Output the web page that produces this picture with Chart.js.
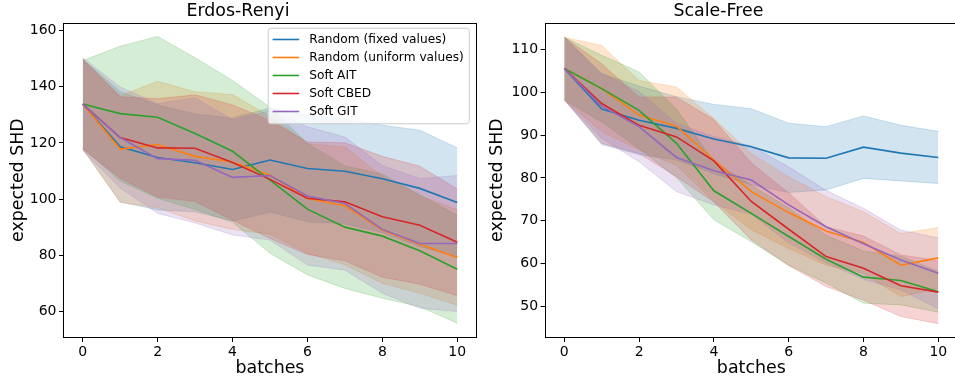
<!DOCTYPE html>
<html>
<head>
<meta charset="utf-8">
<script src="https://cdn.jsdelivr.net/npm/chart.js@4.4.1/dist/chart.umd.min.js"></script>
<style>
  html, body { margin: 0; padding: 0; background: #fff; overflow: hidden; width: 955px; height: 386px; }
  #left { position: absolute; left: 0; top: 0; }
  #right { position: absolute; left: 480px; top: 0; }
</style>
</head>
<body>
<canvas id="left" width="478" height="386"></canvas>
<canvas id="right" width="478" height="386"></canvas>
<script>
const batches = [0, 1, 2, 3, 4, 5, 6, 7, 8, 9, 10];
const xTicks = [0, 2, 4, 6, 8, 10];
const erYTicks = [60, 80, 100, 120, 140, 160];
const sfYTicks = [50, 60, 70, 80, 90, 100, 110];
const seriesNames = ['Random (fixed values)', 'Random (uniform values)', 'Soft AIT', 'Soft CBED', 'Soft GIT'];

// Erdos-Renyi: mean expected SHD and spread per batch
const erFixed = [133.8, 118.6, 114.8, 112.9, 110.5, 113.9, 110.9, 109.9, 107.2, 103.8, 98.8];
const erFixedSd = [16, 19.6, 18.7, 17.4, 18.3, 18.5, 19, 18.7, 19.1, 20.7, 19.4];
const erUniform = [133.8, 117.8, 119.4, 115.2, 113.2, 108.5, 100.2, 97.6, 89.0, 83.9, 79.2];
const erUniformSd = [16, 19, 22.5, 23, 24, 21, 19.5, 21, 19, 17.4, 17];
const erAit = [133.8, 130.4, 129.1, 123.3, 117.0, 106.7, 96.4, 90.0, 86.8, 81.6, 75.0];
const erAitSd = [15.5, 24, 28.8, 27, 25.2, 26, 23.4, 21.8, 22.1, 19.9, 19.2];
const erCbed = [133.8, 121.9, 118.2, 118.1, 113.0, 107.0, 100.3, 99.0, 93.7, 90.7, 84.6];
const erCbedSd = [16, 14.5, 17.5, 19, 20.5, 21, 20, 21, 21.5, 21, 19];
const erGit = [133.8, 121.9, 114.4, 113.8, 107.7, 108.4, 101.1, 98.4, 89.2, 84.2, 84.2];
const erGitSd = [16.5, 18, 19.5, 22.3, 20.5, 23, 24.6, 23.7, 22.7, 23.1, 24.2];

// Scale-Free
const sfFixed = [105.6, 96.1, 93.5, 91.6, 89.1, 87.3, 84.7, 84.6, 87.2, 85.8, 84.8];
const sfFixedSd = [7.3, 8.3, 8, 7.4, 8.1, 8.9, 8.1, 7.4, 7.3, 6.5, 6.1];
const sfUniform = [105.6, 100.9, 94.7, 92.1, 84.2, 76.8, 71.9, 67.6, 64.9, 59.6, 61.3];
const sfUniformSd = [7.3, 10.1, 8.1, 9.2, 9.7, 8.9, 8.4, 8, 7.2, 7.4, 7.1];
const sfAit = [105.6, 100.9, 95.8, 88.1, 77.0, 71.7, 66.3, 61.0, 56.8, 56.0, 53.4];
const sfAitSd = [7.3, 7.8, 9, 8, 6.8, 6.6, 6.7, 5.6, 6.1, 5.7, 4.8];
const sfCbed = [105.6, 97.4, 92.3, 89.6, 84.0, 74.5, 68.0, 61.6, 58.9, 54.8, 53.3];
const sfCbedSd = [7.3, 9.3, 6.6, 9.3, 9.6, 9, 8.5, 7, 7.5, 7.2, 7.4];
const sfGit = [105.6, 96.8, 92.0, 84.8, 81.7, 79.5, 73.7, 68.6, 64.6, 60.8, 57.7];
const sfGitSd = [7.3, 7.6, 8.2, 8, 8, 8, 8.9, 8.5, 8.3, 7, 8.3];

const colors = ['31,119,180', '255,127,14', '44,160,44', '214,39,40', '148,103,189'];
const family = '"DejaVu Sans", sans-serif';

// higher order is drawn first: bands in series order, then lines in series order on top
function seriesSets(means, sds) {
  const sets = [];
  means.forEach((mean, k) => {
    const c = colors[k];
    const edge = 'rgba(' + c + ',0.2)';
    sets.push({ data: mean.map((m, i) => m + sds[k][i]), borderWidth: 1, borderColor: edge, pointRadius: 0, fill: false, order: 20 - k });
    sets.push({ data: mean.map((m, i) => m - sds[k][i]), borderWidth: 1, borderColor: edge, pointRadius: 0, fill: '-1', backgroundColor: edge, order: 20 - k });
  });
  means.forEach((mean, k) => {
    sets.push({ label: seriesNames[k], data: mean, borderColor: 'rgb(' + colors[k] + ')', borderWidth: 1.6, pointRadius: 0, fill: false, tension: 0, order: 10 - k });
  });
  return sets;
}

const frame = {
  id: 'frame',
  afterDatasetsDraw(chart) {
    const { ctx, chartArea: a } = chart;
    ctx.save();
    ctx.strokeStyle = '#000';
    ctx.lineWidth = 1;
    const l = Math.round(a.left) - 0.5, t = Math.round(a.top) + 0.5;
    ctx.strokeRect(l, t, Math.round(a.right) - Math.round(a.left) + 1, Math.round(a.bottom) - Math.round(a.top));
    ctx.restore();
  }
};

const boxLegend = {
  id: 'boxLegend',
  afterDraw(chart) {
    const { ctx, chartArea: a } = chart;
    const items = chart.data.datasets.filter(d => d.label);
    ctx.save();
    ctx.font = '12.2px ' + family;
    const textW = Math.max(...items.map(d => ctx.measureText(d.label).width));
    const rowH = 18;
    const w = 4.4 + 26.6 + 10 + textW + 5.5;
    const h = 11.3 + (items.length - 1) * rowH + 12.3;
    const x = a.right - 6.7 - w, y = a.top + 5;
    ctx.beginPath();
    ctx.roundRect(x, y, w, h, 3);
    ctx.fillStyle = 'rgba(255,255,255,0.8)';
    ctx.fill();
    ctx.strokeStyle = '#cccccc';
    ctx.lineWidth = 1;
    ctx.stroke();
    ctx.textBaseline = 'middle';
    items.forEach((d, i) => {
      const cy = y + 11.3 + i * rowH;
      ctx.beginPath();
      ctx.moveTo(x + 4.4, cy);
      ctx.lineTo(x + 31, cy);
      ctx.strokeStyle = d.borderColor;
      ctx.lineWidth = 1.6;
      ctx.stroke();
      ctx.fillStyle = '#000';
      ctx.fillText(d.label, x + 41, cy);
    });
    ctx.restore();
  }
};

function makeChart(id, title, means, sds, yMin, yMax, yTicks, yWidth, yTitlePad, withLegend) {
  return new Chart(document.getElementById(id), {
    type: 'line',
    data: { labels: batches, datasets: seriesSets(means, sds) },
    options: {
      responsive: false,
      animation: false,
      devicePixelRatio: 1,
      layout: { padding: { left: 0, right: id === 'left' ? 2 : 1, top: 0, bottom: 0 } },
      plugins: {
        legend: { display: false },
        tooltip: { enabled: false },
        title: { display: true, text: title, color: '#000', font: { family, size: 17.4, weight: 'normal' }, padding: { top: 1, bottom: 1.3 } }
      },
      scales: {
        x: {
          type: 'linear', min: -0.5, max: 10.5,
          afterBuildTicks: s => { s.ticks = xTicks.map(v => ({ value: v })); },
          afterFit: s => { s.height = 49; },
          grid: { drawOnChartArea: false, tickLength: 5, color: '#000' },
          border: { display: false },
          ticks: { color: '#000', font: { family, size: 14 }, padding: 2, maxRotation: 0, autoSkip: false },
          title: { display: true, text: 'batches', color: '#000', font: { family, size: 17.4 }, padding: { top: 0, bottom: 6.6 } }
        },
        y: {
          min: yMin, max: yMax,
          afterBuildTicks: s => { s.ticks = yTicks.map(v => ({ value: v })); },
          afterFit: s => { s.width = yWidth; },
          grid: { drawOnChartArea: false, tickLength: 5, color: '#000' },
          border: { display: false },
          ticks: { color: '#000', font: { family, size: 14 }, padding: 2.5, autoSkip: false },
          title: { display: true, text: 'expected SHD', color: '#000', font: { family, size: 17.4 }, padding: { top: yTitlePad, bottom: 0 } }
        }
      }
    },
    plugins: withLegend ? [frame, boxLegend] : [frame]
  });
}

makeChart('left', 'Erdos-Renyi',
  [erFixed, erUniform, erAit, erCbed, erGit],
  [erFixedSd, erUniformSd, erAitSd, erCbedSd, erGitSd],
  50.9, 162.6, erYTicks, 64, 7.6, true);

makeChart('right', 'Scale-Free',
  [sfFixed, sfUniform, sfAit, sfCbed, sfGit],
  [sfFixedSd, sfUniformSd, sfAitSd, sfCbedSd, sfGitSd],
  42.8, 116.2, sfYTicks, 65.6, 6.6, false);
</script>
</body>
</html>
